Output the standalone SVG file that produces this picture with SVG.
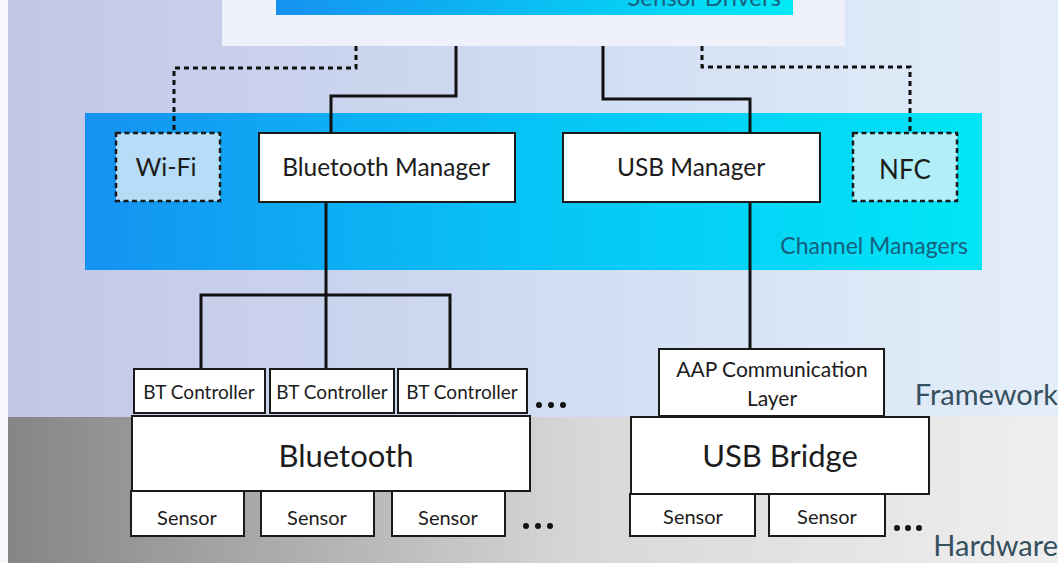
<svg xmlns="http://www.w3.org/2000/svg" width="1058" height="563" viewBox="0 0 1058 563">
<defs>
<linearGradient id="bgFw" x1="0" y1="0" x2="1" y2="0"><stop offset="0" stop-color="#c3c6e6"/><stop offset="0.5" stop-color="#cfdcf2"/><stop offset="1" stop-color="#e4eef9"/></linearGradient>
<linearGradient id="bgHw" x1="0" y1="0" x2="1" y2="0"><stop offset="0" stop-color="#858585"/><stop offset="0.55" stop-color="#d8d8d8"/><stop offset="1" stop-color="#efefef"/></linearGradient>
<linearGradient id="blue" x1="0" y1="0" x2="1" y2="0"><stop offset="0" stop-color="#1592f0"/><stop offset="0.5" stop-color="#06c4f6"/><stop offset="1" stop-color="#00e6f6"/></linearGradient>
<linearGradient id="blue2" x1="0" y1="0" x2="1" y2="0"><stop offset="0" stop-color="#1592f0"/><stop offset="1" stop-color="#00eaf6"/></linearGradient>
</defs>
<style>
text{font-family:Lato,"Open Sans","Liberation Sans",sans-serif;fill:#1c1c1c}
.box{fill:#fff;stroke:#1a1a1a;stroke-width:2}
.dash{stroke:#1a1a1a;stroke-width:2.5;stroke-dasharray:5 3.5}
.line{fill:none;stroke:#111;stroke-width:3}
.dot{fill:none;stroke:#111;stroke-width:3;stroke-dasharray:5 4}
.lbl{fill:#35505e}
.m{text-anchor:middle}
</style>
<rect x="0" y="0" width="1058" height="563" fill="#f6f7fb"/>
<rect x="8" y="0" width="1050" height="417" fill="url(#bgFw)"/>
<rect x="8" y="417" width="1050" height="146" fill="url(#bgHw)"/>
<g id="sensor-drivers">
<rect x="222" y="0" width="623" height="46" fill="#eef1fa"/>
<rect x="276" y="0" width="517" height="15" fill="url(#blue2)"/>
<text x="781" y="6" font-size="24" text-anchor="end" style="fill:#1a5f82">Sensor Drivers</text>
</g>
<g id="channel-managers">
<rect x="85" y="113" width="897" height="157" fill="url(#blue)"/>
<text x="968" y="254" font-size="23" text-anchor="end" style="fill:#17607e">Channel Managers</text>
</g>
<text x="1058" y="405" font-size="29" text-anchor="end" class="lbl">Framework</text>
<text x="1058" y="556" font-size="29" text-anchor="end" class="lbl">Hardware</text>
<g id="connectors">
<polyline class="dot" points="356,46 356,68 174,68 174,133"/>
<polyline class="line" points="456,46 456,96 331,96 331,133"/>
<polyline class="line" points="603,46 603,99 750,99 750,133"/>
<polyline class="dot" points="702,46 702,67 910,67 910,133"/>
<polyline class="line" points="326,202 326,369"/>
<polyline class="line" points="201,369 201,295 450,295 450,369"/>
<polyline class="line" points="750,202 750,349"/>
</g>
<g id="wifi"><rect x="116" y="133" width="104" height="68" fill="#b6dcf8" class="dash"/><text x="166" y="176" font-size="25" class="m">Wi-Fi</text></g>
<g id="bt-manager"><rect class="box" x="259" y="133" width="256" height="69"/><text x="386" y="176" font-size="24.5" class="m">Bluetooth Manager</text></g>
<g id="usb-manager"><rect class="box" x="563" y="133" width="257" height="69"/><text x="691" y="176" font-size="24.5" class="m">USB Manager</text></g>
<g id="nfc"><rect x="853" y="133" width="104" height="68" fill="#b2eef8" class="dash"/><text x="905" y="179" font-size="26" class="m">NFC</text></g>
<g id="bt-controller-1"><rect class="box" x="134" y="369" width="131" height="44"/><text x="199" y="399" font-size="19" class="m">BT Controller</text></g>
<g id="bt-controller-2"><rect class="box" x="270" y="369" width="124" height="44"/><text x="332" y="399" font-size="19" class="m">BT Controller</text></g>
<g id="bt-controller-3"><rect class="box" x="398" y="369" width="129" height="44"/><text x="462" y="399" font-size="19" class="m">BT Controller</text></g>
<g id="bt-more"><circle cx="539" cy="405" r="3" fill="#111"/><circle cx="551" cy="405" r="3" fill="#111"/><circle cx="563" cy="405" r="3" fill="#111"/></g>
<g id="bluetooth"><rect class="box" x="132" y="416" width="398" height="75"/><text x="346" y="467" font-size="31" class="m">Bluetooth</text></g>
<g id="bt-sensor-1"><rect class="box" x="131" y="491" width="113" height="45"/><text x="187" y="525" font-size="20" class="m">Sensor</text></g>
<g id="bt-sensor-2"><rect class="box" x="261" y="491" width="113" height="45"/><text x="317" y="525" font-size="20" class="m">Sensor</text></g>
<g id="bt-sensor-3"><rect class="box" x="392" y="491" width="113" height="45"/><text x="448" y="525" font-size="20" class="m">Sensor</text></g>
<g id="bt-sensor-more"><circle cx="526" cy="526" r="3" fill="#111"/><circle cx="538" cy="526" r="3" fill="#111"/><circle cx="550" cy="526" r="3" fill="#111"/></g>
<g id="aap"><rect class="box" x="659" y="349" width="225" height="67"/><text x="772" y="377" font-size="21" class="m">AAP Communication</text><text x="772" y="406" font-size="21" class="m">Layer</text></g>
<g id="usb-bridge"><rect class="box" x="631" y="417" width="298" height="77"/><text x="780" y="467" font-size="31" class="m">USB Bridge</text></g>
<g id="usb-sensor-1"><rect class="box" x="630" y="494" width="125" height="42"/><text x="693" y="524" font-size="20" class="m">Sensor</text></g>
<g id="usb-sensor-2"><rect class="box" x="769" y="494" width="116" height="42"/><text x="827" y="524" font-size="20" class="m">Sensor</text></g>
<g id="usb-sensor-more"><circle cx="897" cy="528" r="3" fill="#111"/><circle cx="908" cy="528" r="3" fill="#111"/><circle cx="919" cy="528" r="3" fill="#111"/></g>
</svg>
